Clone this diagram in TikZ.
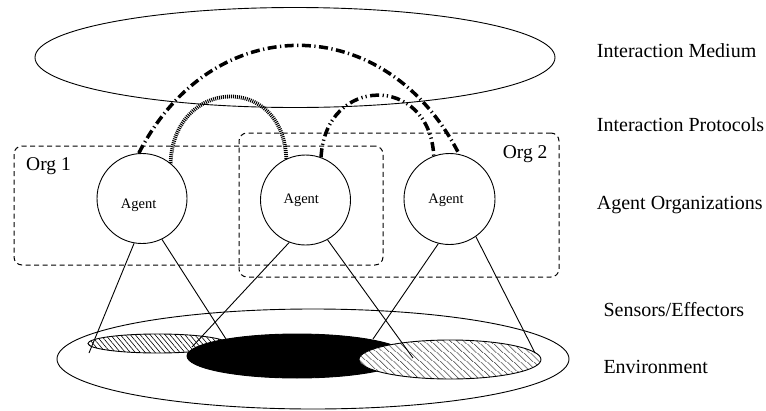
\documentclass[tikz,border=0pt]{standalone}
\usepackage{fontspec}
\setmainfont{Liberation Serif}
\usetikzlibrary{shapes.geometric,patterns.meta}
\begin{document}
\begin{tikzpicture}[x=1pt,y=-1pt,
  thinline/.style={line width=0.9pt},
  agentc/.style={circle,draw,line width=0.9pt,minimum size=90pt,inner sep=0pt},
  agentt/.style={font=\fontsize{14.5}{16}\selectfont,anchor=base,inner sep=0pt},
  lab/.style={font=\fontsize{20}{22}\selectfont,anchor=base west,inner sep=0pt},
  orgt/.style={font=\fontsize{19.5}{22}\selectfont,anchor=base west,inner sep=0pt},
  orgbox/.style={draw,line width=1pt,dash pattern=on 5pt off 3.5pt,rounded corners=8pt,inner sep=0pt},
  ell/.style={ellipse,draw,line width=0.9pt,inner sep=0pt},
  hatchl/.style={ell,preaction={fill=white},pattern={Lines[angle=-50,distance=3.8pt,line width=0.6pt]}},
  hatchr/.style={ell,preaction={fill=white},pattern={Lines[angle=-42,distance=4pt,line width=0.6pt]}},
  dashdot/.style={line width=3.5pt,dash pattern=on 9pt off 3.5pt on 1.2pt off 3.5pt},
  dashdotdot/.style={line width=3.5pt,dash pattern=on 9pt off 3.5pt on 1.2pt off 3pt on 1.2pt off 3.5pt},
  densedot/.style={line width=3.8pt,dash pattern=on 1pt off 1pt}
]
\useasboundingbox (0,0) rectangle (766,410);

% interaction medium
\node[ell,minimum width=520pt,minimum height=100pt] (medium) at (295,57.5) {};

% environment
\node[ell,minimum width=512pt,minimum height=100pt] (env) at (313,359) {};
\node[hatchl,minimum width=139pt,minimum height=19pt] (s1) at (157.5,343.5) {};
\node[ell,fill=black,minimum width=220pt,minimum height=44pt] (s2) at (297,356) {};
\node[hatchr,minimum width=182pt,minimum height=39pt] (s3) at (450,359.5) {};

% organizations
\node[orgbox,minimum width=369pt,minimum height=119pt] (org1) at (198.5,205.5) {};
\node[orgbox,minimum width=320pt,minimum height=144pt] (org2) at (399,205) {};
\node[orgt] (org1t) at (26,170.7) {Org 1};
\node[orgt] (org2t) at (502.7,158.3) {Org 2};

% agents
\node[agentc] (a1) at (142,198.5) {};
\node[agentc] (a2) at (305.5,200) {};
\node[agentc,minimum size=91pt] (a3) at (449.5,199) {};
\node[agentt] (t1) at (138.7,208) {Agent};
\node[agentt] (t2) at (301.3,203) {Agent};
\node[agentt] (t3) at (446,203) {Agent};

% protocols
\draw[dashdot] (a1.94) .. controls +(-63:162) and +(-117:162) .. (a3.78);
\draw[densedot] (a1.51) .. controls +(-88:86) and +(-92:86) .. (a2.115);
\draw[dashdotdot] (a2.70) .. controls +(-87:82) and +(-93:82) .. (a3.110);

% sensors / effectors
\coordinate (e1) at (89,353);
\coordinate (e2) at (226,339);
\coordinate (e3) at (192,347);
\coordinate (e4) at (413,358);
\coordinate (e5) at (373,339);
\coordinate (e6) at (535,353);
\draw[thinline] (a1.-100) -- (e1);
\draw[thinline] (a1.-64) -- (e2);
\draw[thinline] (a2.-111) -- (e3);
\draw[thinline] (a2.-61) -- (e4);
\draw[thinline] (a3.-104) -- (e5);
\draw[thinline] (a3.-55) -- (e6);

% labels
\node[lab] (l1) at (596.7,57.7) {Interaction Medium};
\node[lab] (l2) at (596.7,131.7) {Interaction Protocols};
\node[lab] (l3) at (596.7,209) {Agent Organizations};
\node[lab] (l4) at (603.3,316.7) {Sensors/Effectors};
\node[lab] (l5) at (603.3,373.3) {Environment};
\end{tikzpicture}
\end{document}
